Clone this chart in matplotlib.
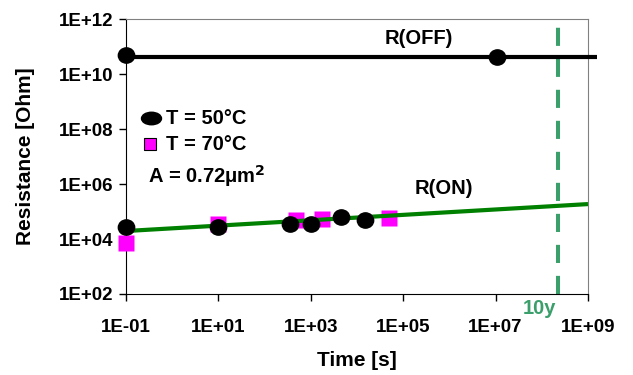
import matplotlib
matplotlib.use("Agg")
import matplotlib.pyplot as plt
from matplotlib.markers import MarkerStyle
from matplotlib.transforms import Affine2D

# ---- data ----
t50_on = [0.1, 10, 355, 1000, 4500, 15000]
r50_on = [2.75e4, 2.75e4, 3.5e4, 3.6e4, 6.3e4, 4.9e4]
t50_off = [0.1, 1.07e7]
r50_off = [4.9e10, 4.2e10]
t70_on = [0.1, 10, 480, 1740, 4.9e4]
r70_on = [7.2e3, 3.6e4, 4.9e4, 5.3e4, 5.8e4]
fit_on_t = [0.1, 1e9]
fit_on_r = [1.95e4, 1.86e5]
fit_off_t = [0.1, 1.55e9]
fit_off_r = [4.2e10, 4.2e10]
ten_years = 2.24e8
xticks = [1e-1, 1e1, 1e3, 1e5, 1e7, 1e9]
xtick_labels = ["1E-01", "1E+01", "1E+03", "1E+05", "1E+07", "1E+09"]
yticks = [1e2, 1e4, 1e6, 1e8, 1e10, 1e12]
ytick_labels = ["1E+02", "1E+04", "1E+06", "1E+08", "1E+10", "1E+12"]

plt.rcParams['font.family'] = ['Liberation Sans', 'DejaVu Sans']
plt.rcParams['font.weight'] = 'bold'

fig = plt.figure(figsize=(6.33, 3.75), dpi=100)
ax = fig.add_axes([126/633, 1-294/375, (588-126)/633, (294-19)/375])
ax.set_xscale('log')
ax.set_yscale('log')
ax.set_xlim(1e-1, 1e9)
ax.set_ylim(1e2, 1e12)

green = '#008000'
dgreen = '#3a9f6b'

ax.plot(fit_off_t, fit_off_r, color='black', lw=3, clip_on=False, zorder=3, solid_capstyle='butt')
ax.plot(fit_on_t, fit_on_r, color=green, lw=3, zorder=4, solid_capstyle='butt')
ax.axvline(ten_years, ymin=0, ymax=1, color=dgreen, lw=2.9, dashes=(4.5, 3.2), zorder=2)

ax.plot(t70_on, r70_on, ls='none', marker='s', ms=11.5, color='#ff00ff', mec='none', clip_on=False, zorder=3)
ell = MarkerStyle('o', transform=Affine2D().scale(1.07, 1.0))
ax.plot(t50_on, r50_on, ls='none', marker=ell, ms=11, color='black', clip_on=False, zorder=5)
ax.plot(t50_off, r50_off, ls='none', marker=ell, ms=11, color='black', clip_on=False, zorder=5)

ax.set_xticks(xticks)
ax.set_xticklabels(xtick_labels)
ax.set_yticks(yticks)
ax.set_yticklabels(ytick_labels)
ax.minorticks_off()
ax.tick_params(axis='both', direction='out', length=5, width=1, labelsize=13.5, pad=4)
ax.tick_params(axis='x', pad=13)
for lab in ax.get_xticklabels() + ax.get_yticklabels():
    lab.set_fontweight('bold')

ax.spines['left'].set_color('black')
ax.spines['bottom'].set_color('black')
ax.spines['top'].set_color('#808080')
ax.spines['right'].set_color('#808080')
ax.spines['top'].set_linewidth(0.8)
ax.spines['right'].set_linewidth(0.8)

ax.set_xlabel('Time [s]', fontsize=15, fontweight='bold', labelpad=11)
ax.set_ylabel('Resistance [Ohm]', fontsize=15, fontweight='bold', labelpad=17)

fig.text(385/633, 1-38/375, 'R(OFF)', fontsize=14.5, fontweight='bold', va='center', ha='left')
fig.text(415/633, 1-189/375, 'R(ON)', fontsize=14.5, fontweight='bold', va='center', ha='left')
fig.text(540/633, 1-309/375, '10y', fontsize=14.5, fontweight='bold', va='center', ha='center', color=dgreen)

# legend-like annotation
leg_ell = MarkerStyle('o', transform=Affine2D().scale(1.6, 1.0))
fig.lines.append(plt.Line2D([151/633], [1-118/375], marker=leg_ell, ms=9.0, color='black', ls='none', transform=fig.transFigure))
fig.text(166/633, 1-118/375, 'T = 50°C', fontsize=14.5, fontweight='bold', va='center', ha='left')
fig.lines.append(plt.Line2D([150/633], [1-144/375], marker='s', ms=8.5, color='#ff00ff', mec='black', mew=0.8, ls='none', transform=fig.transFigure))
fig.text(166/633, 1-144/375, 'T = 70°C', fontsize=14.5, fontweight='bold', va='center', ha='left')
fig.text(148/633, 1-176/375, 'A = 0.72μm$^{\\mathbf{2}}$', fontsize=14.5, fontweight='bold', va='center', ha='left')

fig.savefig('out.png', dpi=100)
